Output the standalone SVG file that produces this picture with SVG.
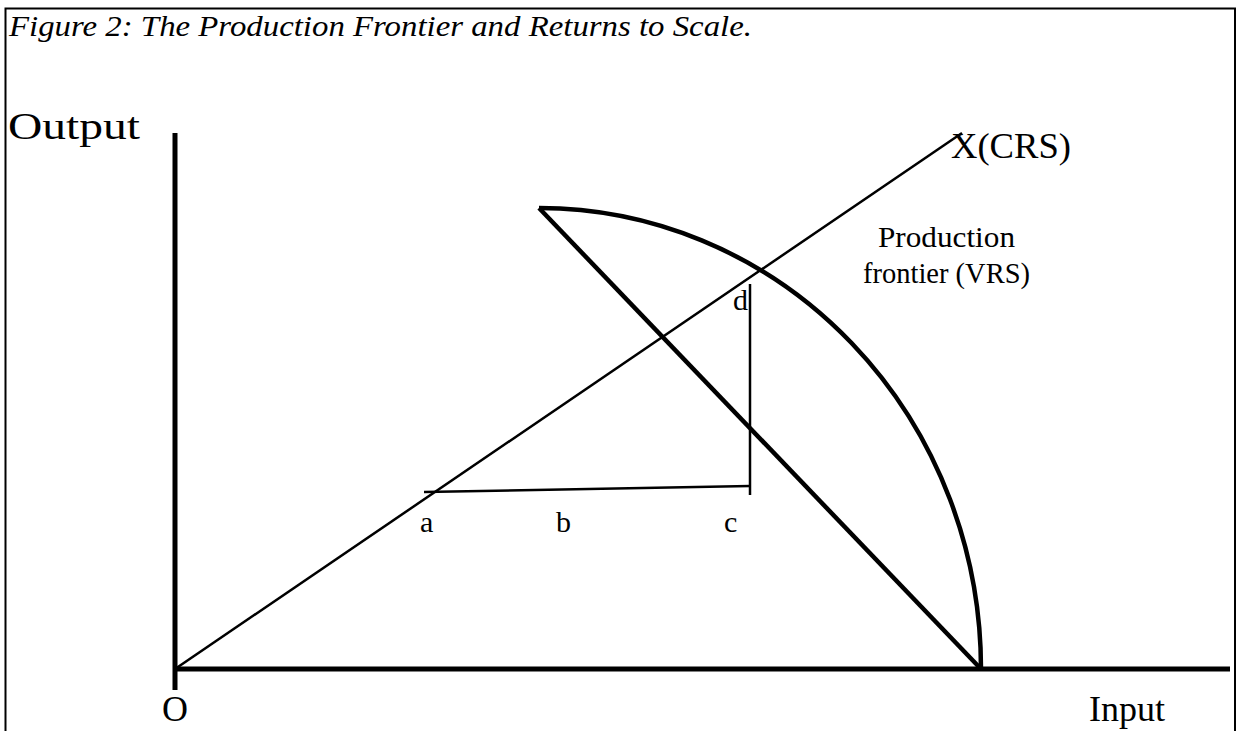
<svg xmlns="http://www.w3.org/2000/svg" width="1240" height="731" viewBox="0 0 1240 731">
<style>
.t{font-family:"Liberation Serif","Times New Roman",serif;fill:#000}
.ln{stroke:#000;fill:none;stroke-linecap:butt}
</style>
<rect x="0" y="0" width="1240" height="731" fill="#fff"/>
<g id="frame"><path class="ln" stroke-width="2" d="M5.5,740 V8.5 H1235 V740"/></g>
<text class="t" x="9" y="36" font-size="30" font-style="italic" textLength="743" lengthAdjust="spacingAndGlyphs">Figure 2: The Production Frontier and Returns to Scale.</text>
<g id="axes">
<line class="ln" x1="175" y1="133" x2="175" y2="690" stroke-width="5"/>
<line class="ln" x1="173" y1="669" x2="1230" y2="669" stroke-width="5"/>
</g>
<g id="connectors">
<line class="ln" x1="175" y1="669" x2="962" y2="133" stroke-width="2.5"/>
<path class="ln" d="M539,208 A442,461 0 0 1 981,669" stroke-width="4.5"/>
<line class="ln" x1="539" y1="208" x2="981" y2="669" stroke-width="4.5"/>
<line class="ln" x1="424" y1="492" x2="750" y2="486" stroke-width="2.5"/>
<line class="ln" x1="750" y1="284" x2="750" y2="495" stroke-width="2.5"/>
</g>
<g id="labels">
<text class="t" x="8" y="139" font-size="38" textLength="132" lengthAdjust="spacingAndGlyphs">Output</text>
<text class="t" x="951" y="158" font-size="36" textLength="120" lengthAdjust="spacingAndGlyphs">X(CRS)</text>
<text class="t" x="878" y="247" font-size="30" textLength="137" lengthAdjust="spacingAndGlyphs">Production</text>
<text class="t" x="863" y="283" font-size="30" textLength="167" lengthAdjust="spacingAndGlyphs">frontier (VRS)</text>
<text class="t" x="733" y="310" font-size="30">d</text>
<text class="t" x="420" y="532" font-size="30">a</text>
<text class="t" x="556" y="532" font-size="30">b</text>
<text class="t" x="724" y="532" font-size="30">c</text>
<text class="t" x="162" y="721" font-size="36">O</text>
<text class="t" x="1089" y="721" font-size="36">Input</text>
</g>
</svg>
